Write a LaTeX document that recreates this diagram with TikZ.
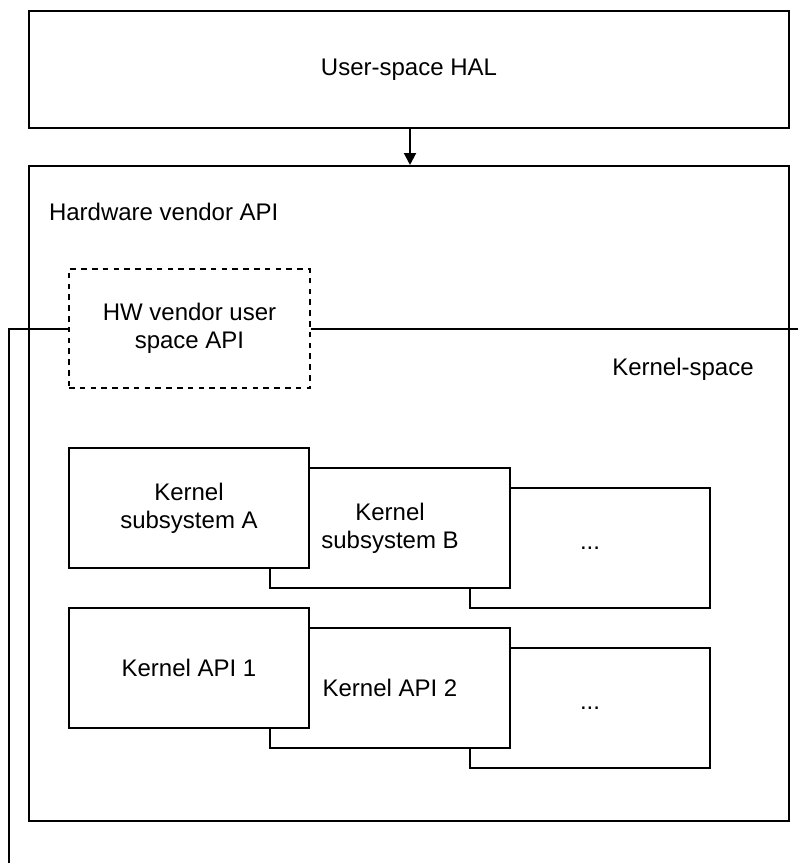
\documentclass[tikz,border=0pt]{standalone}
\usepackage{fontspec}
\setmainfont{Liberation Sans}
\usetikzlibrary{arrows.meta}

\begin{document}
\begin{tikzpicture}[x=0.5pt, y=-0.5pt, line width=1pt,
  txt/.style={font=\fontsize{12}{14}\selectfont},
  frame/.style={draw, fill=white, anchor=north west, inner sep=0pt, align=center, txt},
  kbox/.style={frame, minimum width=120pt, minimum height=60pt},
  vendorbox/.style={frame, minimum width=120.5pt, minimum height=59.5pt, dash pattern=on 2.8pt off 2.6pt},
  plain/.style={inner sep=0pt, txt}]

  \useasboundingbox (0,0) rectangle (800,863);

  % outer frames
  \node[frame, minimum width=380pt, minimum height=58.5pt] (hal) at (28,10) {User-space HAL};
  \node[frame, minimum width=380pt, minimum height=327.5pt] (vendor) at (28,165) {};
  \draw[-{Triangle[length=6pt,width=6pt]}] (hal.south -| 410,0) -- (vendor.north -| 410,0);

  \node[plain, anchor=west] (vendorlbl) at (48,212) {Hardware vendor API};
  \node[plain] (kslbl) at (683,369) {Kernel-space};

  % user/kernel boundary line through the vendor user space API box
  \coordinate (bndright) at (798,327);
  \coordinate (bndleft) at (9,327);
  \coordinate (bndbottom) at (9,863);
  \node[vendorbox] (uapi) at (68,268) {HW vendor user\\space API};
  \draw (uapi.east) -- (uapi.east -| bndright);
  \draw (uapi.west) -- (uapi.west -| bndleft) -- (bndbottom);

  % kernel subsystems (stacked, back to front)
  \node[kbox] (subc) at (469,487) {...};
  \node[kbox] (subb) at (269,467) {Kernel\\subsystem B};
  \node[kbox] (suba) at (68,447) {Kernel\\subsystem A};

  % kernel APIs (stacked, back to front)
  \node[kbox] (apic) at (469,647) {...};
  \node[kbox] (apib) at (269,627) {Kernel API 2};
  \node[kbox] (apia) at (68,607) {Kernel API 1};
\end{tikzpicture}
\end{document}
